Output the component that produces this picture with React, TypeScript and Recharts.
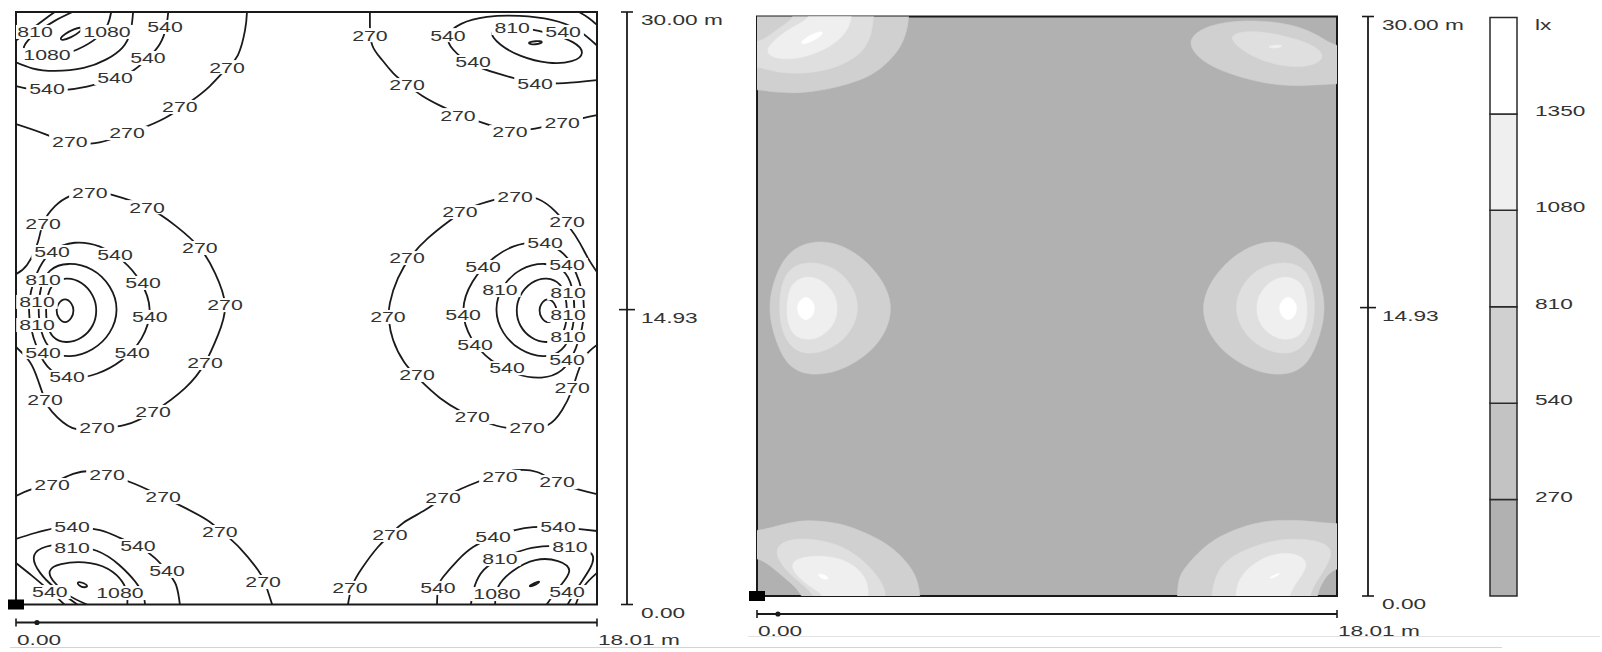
import {
  ComposedChart,
  Line,
  Scatter,
  XAxis,
  YAxis,
  ReferenceArea,
  BarChart,
  Bar
} from "recharts";

type Pair = number[];
const toPts = (a: Pair[]) => a.map(([x, y]) => ({ x, y }));

// room size (m) and dimension-line ticks
const roomWidth = 18.01;
const roomDepth = 30;
const widthTicks = [0, 0.65, 18.01];
const depthTicks = [0, 14.93, 30];
const origin = [{ x: 0, y: 0 }];

// illuminance classes (lx) and grey shades
const lxEdges = [0, 270, 540, 810, 1080, 1350, 1620];
const lxShades = ["#b1b1b1", "#c3c3c3", "#d0d0d0", "#dfdfdf", "#efefef", "#ffffff"];

// isolines, x/y in metres
const tl270 = [[7.16, 30], [7.1, 29.08], [6.88, 27.82], [6.54, 27.16], [6.01, 26.25], [5.39, 25.44], [4.62, 24.63], [3.84, 24.07], [3.07, 23.62], [2.45, 23.36], [1.67, 23.36], [0.9, 23.82], [0, 24.33]];
const tl540 = [[4.72, 30], [4.65, 29.2], [4.45, 28.35], [4.05, 27.6], [3.6, 27.0], [3.07, 26.62], [2.2, 26.22], [1.3, 26.02], [0.5, 26.08], [0, 26.25]];
const tl810 = [[3.63, 30], [3.55, 29.0], [3.3, 28.2], [2.8, 27.6], [2.1, 27.17], [1.2, 27.02], [0.5, 27.15], [0, 27.45]];
const tl810Corner = [[0, 28.55], [0.45, 29.1], [0.9, 29.65], [1.2, 30]];
const tl1080 = [[1.75, 30], [1.2, 29.55], [0.6, 28.9], [0.25, 28.25], [0.45, 27.85], [1.1, 27.75], [1.9, 28.1], [2.55, 28.75], [2.85, 29.4], [2.95, 30]];
const tl1350 = [[1.42, 28.55], [1.7, 28.7], [2.02, 29.02], [2.06, 29.25], [1.8, 29.15], [1.5, 28.88], [1.36, 28.66]];

const tr270 = [[10.97, 30], [10.97, 29.34], [11.04, 28.33], [11.35, 27.57], [11.69, 26.91], [12.12, 26.31], [12.6, 25.75], [13.1, 25.3], [13.7, 24.85], [14.45, 24.4], [15.31, 24.02], [16.09, 24.1], [16.93, 24.38], [17.58, 24.63], [18.01, 24.78]];
const tr270Corner = [[17.45, 30], [17.75, 29.7], [18.01, 29.35]];
const tr540 = [[18.01, 28.3], [17.4, 29.1], [16.6, 29.6], [15.6, 29.8], [14.6, 29.75], [13.8, 29.4], [13.4, 28.8], [13.55, 28.1], [14.1, 27.4], [14.9, 26.9], [16.0, 26.45], [17.0, 26.4], [18.01, 26.55]];
const tr810 = [[14.55, 29.1], [15.0, 28.3], [15.6, 27.75], [16.5, 27.35], [17.3, 27.45], [17.65, 27.9], [17.35, 28.5], [16.5, 28.95], [15.5, 29.3]];
const tr1080 = [[15.8, 28.42], [16.1, 28.55], [16.4, 28.5], [16.1, 28.32]];

const ml270 = [[0, 16.73], [0.34, 17.19], [0.68, 18.35], [0.84, 19.31], [1.21, 20.17], [1.67, 20.68], [2.29, 20.93], [3.01, 20.73], [4.06, 20.12], [4.96, 19.16], [5.7, 18.05], [6.17, 16.78], [6.48, 15.16], [6.26, 13.64], [5.86, 12.23], [5.24, 10.96], [4.25, 9.75], [3.38, 9.09], [2.51, 8.89], [1.74, 8.94], [1.12, 9.75], [0.9, 10.35], [0.68, 11.37], [0.43, 12.28], [0, 13.04]];
const ml540 = [[1.1, 18.0], [1.8, 18.42], [2.6, 18.22], [3.3, 17.5], [3.9, 16.4], [4.25, 14.95], [3.95, 13.4], [3.3, 12.3], [2.5, 11.6], [1.7, 11.4], [1.05, 11.75], [0.65, 12.8], [0.28, 14.95], [0.65, 17.0]];
const ml810 = [[1.0, 17.0], [1.6, 17.35], [2.4, 17.05], [2.95, 16.15], [3.2, 14.95], [2.95, 13.7], [2.4, 12.85], [1.65, 12.45], [1.05, 12.8], [0.75, 13.8], [0.68, 14.95], [0.75, 16.1]];
const ml1080 = [[1.1, 16.25], [1.55, 16.6], [2.05, 16.35], [2.42, 15.65], [2.52, 14.9], [2.42, 14.1], [2.05, 13.45], [1.55, 13.2], [1.1, 13.5], [0.95, 14.2], [0.92, 14.9], [0.97, 15.6]];
const ml1350 = [[1.52, 15.55], [1.74, 15.25], [1.8, 14.9], [1.74, 14.5], [1.52, 14.2], [1.3, 14.5], [1.24, 14.9], [1.3, 15.25]];

const mr270 = [[18.01, 16.83], [17.73, 17.54], [17.48, 18.3], [17.17, 19.06], [16.74, 19.87], [16.18, 20.53], [15.47, 20.68], [14.79, 20.48], [14.07, 20.08], [13.39, 19.37], [12.77, 18.55], [12.28, 17.7], [11.84, 16.53], [11.59, 15.26], [11.56, 14.4], [11.69, 13.39], [12.03, 12.28], [12.52, 11.37], [13.14, 10.46], [13.83, 9.75], [14.54, 9.24], [15.22, 8.94], [15.84, 8.89], [16.49, 9.09], [16.93, 9.85], [17.21, 10.76], [17.42, 11.77], [17.67, 12.63], [18.01, 13.14]];
const mr540 = [[16.91, 18.0], [16.21, 18.42], [15.41, 18.22], [14.71, 17.5], [14.11, 16.4], [13.76, 14.95], [14.06, 13.4], [14.71, 12.3], [15.51, 11.6], [16.31, 11.4], [16.96, 11.75], [17.36, 12.8], [17.73, 14.95], [17.36, 17.0]];
const mr810 = [[17.01, 17.0], [16.41, 17.35], [15.61, 17.05], [15.06, 16.15], [14.81, 14.95], [15.06, 13.7], [15.61, 12.85], [16.36, 12.45], [16.96, 12.8], [17.26, 13.8], [17.33, 14.95], [17.26, 16.1]];
const mr1080 = [[16.91, 16.25], [16.46, 16.6], [15.96, 16.35], [15.59, 15.65], [15.49, 14.9], [15.59, 14.1], [15.96, 13.45], [16.46, 13.2], [16.91, 13.5], [17.06, 14.2], [17.09, 14.9], [17.04, 15.6]];
const mr1350 = [[16.49, 15.55], [16.27, 15.25], [16.21, 14.9], [16.27, 14.5], [16.49, 14.2], [16.71, 14.5], [16.77, 14.9], [16.71, 15.25]];

const bl270 = [[0, 5.49], [0.43, 5.8], [1.12, 6.15], [1.77, 6.61], [2.29, 6.76], [2.82, 6.61], [3.69, 6.1], [4.56, 5.44], [5.24, 4.89], [5.92, 4.28], [6.39, 3.67], [6.94, 2.86], [7.5, 1.75], [7.72, 1.09], [7.94, 0]];
const bl540 = [[0, 3.32], [0.59, 3.62], [1.21, 3.87], [1.74, 3.92], [2.6, 3.77], [3.22, 3.37], [3.78, 2.96], [4.31, 2.35], [4.68, 1.69], [4.96, 0.99], [5.08, 0]];
const bl540Corner = [[1.5, 0], [1.0, 0.75], [0.5, 1.45], [0, 2.1]];
const bl810 = [[1.9, 0], [1.2, 0.85], [0.75, 1.6], [0.55, 2.35], [0.8, 2.85], [1.5, 3.02], [2.5, 2.72], [3.2, 2.0], [3.7, 1.15], [3.95, 0.45], [4.0, 0]];
const bl1080 = [[2.2, 0], [1.6, 0.5], [1.15, 1.2], [1.05, 1.7], [1.4, 2.05], [2.3, 2.1], [3.0, 1.65], [3.35, 1.0], [3.45, 0.45], [3.45, 0]];
const bl1350 = [[1.88, 1.15], [2.05, 1.13], [2.26, 0.93], [2.12, 0.84], [1.95, 0.95]];

const br270 = [[18.01, 5.59], [17.48, 5.8], [16.77, 6.2], [16.15, 6.71], [15.56, 6.81], [15.0, 6.61], [14.07, 6.05], [13.24, 5.39], [12.68, 4.78], [12.0, 4.13], [11.59, 3.52], [11.22, 2.91], [10.73, 1.85], [10.42, 0.94], [10.29, 0]];
const br540 = [[18.01, 3.72], [17.48, 3.82], [16.8, 3.92], [16.03, 3.92], [15.47, 3.77], [14.79, 3.42], [14.17, 2.91], [13.7, 2.25], [13.24, 1.39], [13.08, 0.84], [13.05, 0]];
const br540Corner = [[17.35, 0], [17.6, 0.9], [18.01, 1.6]];
const br810 = [[14.1, 0], [14.23, 0.99], [14.5, 1.75], [15.0, 2.3], [15.84, 2.81], [16.5, 2.96], [17.3, 2.92], [17.85, 2.55], [17.8, 1.85], [17.45, 0.95], [17.1, 0]];
const br1080 = [[14.85, 0], [14.95, 0.9], [15.4, 1.7], [16.1, 2.25], [16.8, 2.2], [17.15, 1.7], [16.85, 0.9], [16.45, 0]];
const br1350 = [[15.85, 0.88], [16.05, 1.08], [16.28, 1.22], [16.12, 0.98]];

const openLines = [tl270, tl540, tl810, tl810Corner, tl1080, tr270, tr270Corner, tr540, ml270, mr270, bl270, bl540, bl540Corner, bl810, bl1080, br270, br540, br540Corner, br810, br1080];
const closedLines = [tl1350, tr810, tr1080, ml540, ml810, ml1080, ml1350, mr540, mr810, mr1080, mr1350, bl1350, br1350];

// filled areas: open isolines closed with points outside the room
const fillAreas = [
  { lx: 540, pts: [...tl540, [-1.5, 26.25], [-1.5, 31.5], [4.75, 31.5]] },
  { lx: 540, pts: [...tr540, [19.5, 26.55], [19.5, 28.3]] },
  { lx: 540, pts: ml540 },
  { lx: 540, pts: mr540 },
  { lx: 540, pts: [...bl540, [5.08, -1.5], [1.5, -1.5], ...bl540Corner, [-1.5, 2.1], [-1.5, 3.32]] },
  { lx: 540, pts: [...br540, [13.05, -1.5], [17.35, -1.5], ...br540Corner, [19.5, 1.6], [19.5, 3.72]] },
  { lx: 810, pts: [...tl810, [-1.5, 27.45], [-1.5, 28.55], ...tl810Corner, [1.2, 31.5], [3.63, 31.5]] },
  { lx: 810, pts: tr810 },
  { lx: 810, pts: ml810 },
  { lx: 810, pts: mr810 },
  { lx: 810, pts: [...bl810, [4.0, -1.5], [1.9, -1.5]] },
  { lx: 810, pts: [...br810, [17.1, -1.5], [14.1, -1.5]] },
  { lx: 1080, pts: [...tl1080, [2.95, 31.5], [1.75, 31.5]] },
  { lx: 1080, pts: tr1080 },
  { lx: 1080, pts: ml1080 },
  { lx: 1080, pts: mr1080 },
  { lx: 1080, pts: [...bl1080, [3.45, -1.5], [2.2, -1.5]] },
  { lx: 1080, pts: [...br1080, [16.45, -1.5], [14.85, -1.5]] },
  { lx: 1350, pts: tl1350 },
  { lx: 1350, pts: ml1350 },
  { lx: 1350, pts: mr1350 },
  { lx: 1350, pts: bl1350 },
  { lx: 1350, pts: br1350 }
];

// isoline labels: x, y (m), value
const isoLabels = [
  [0.59, 28.99, 810], [2.82, 28.99, 1080], [4.62, 29.24, 540], [0.96, 27.82, 1080], [4.09, 27.67, 540], [6.54, 27.21, 270], [3.07, 26.66, 540], [0.96, 26.1, 540], [5.08, 25.19, 270], [3.44, 23.87, 270], [1.67, 23.42, 270],
  [10.97, 28.83, 270], [13.39, 28.83, 540], [15.38, 29.19, 810], [16.96, 28.99, 540], [14.17, 27.47, 540], [12.12, 26.3, 270], [16.09, 26.4, 540], [13.7, 24.78, 270], [15.31, 23.92, 270], [16.93, 24.38, 270],
  [2.29, 20.88, 270], [4.06, 20.12, 270], [0.84, 19.31, 270], [5.7, 18.05, 270], [1.12, 17.85, 540], [3.07, 17.7, 540], [3.94, 16.28, 540], [0.84, 16.43, 810], [0.65, 15.32, 810], [6.48, 15.16, 270], [4.15, 14.56, 540], [0.65, 14.15, 810], [0.84, 12.78, 540], [3.6, 12.78, 540], [5.86, 12.23, 270], [1.58, 11.52, 540], [0.9, 10.35, 270], [4.25, 9.75, 270], [2.51, 8.94, 270],
  [15.47, 20.63, 270], [13.76, 19.87, 270], [17.08, 19.37, 270], [16.4, 18.3, 540], [12.12, 17.54, 270], [14.48, 17.09, 540], [17.08, 17.19, 540], [15.0, 15.92, 810], [17.11, 15.77, 810], [11.53, 14.56, 270], [13.86, 14.66, 540], [17.11, 14.66, 810], [17.11, 13.54, 810], [14.23, 13.14, 540], [17.08, 12.38, 540], [15.22, 11.97, 540], [12.43, 11.62, 270], [17.24, 10.96, 270], [14.14, 9.49, 270], [15.84, 8.94, 270],
  [1.12, 6.05, 270], [2.82, 6.56, 270], [4.56, 5.44, 270], [1.74, 3.92, 540], [6.32, 3.67, 270], [3.78, 2.96, 540], [1.74, 2.86, 810], [4.68, 1.7, 540], [7.66, 1.14, 270], [1.05, 0.63, 540], [3.22, 0.58, 1080],
  [15.0, 6.46, 270], [16.77, 6.2, 270], [13.24, 5.39, 270], [11.59, 3.52, 270], [16.8, 3.92, 540], [14.79, 3.42, 540], [17.17, 2.91, 810], [15.0, 2.3, 810], [10.35, 0.84, 270], [13.08, 0.84, 540], [14.91, 0.53, 1080], [17.08, 0.63, 540]
];

const FONT = "'Liberation Sans', Arial, sans-serif";
const INK = "#1a1a1a";

const fmt = (v: number) => v.toFixed(2);

function DimXTick(props: any) {
  const { x, y, payload } = props;
  const v = payload.value;
  if (v > 0 && v < 1) return <circle cx={x} cy={y} r={2.6} fill={INK} />;
  return (
    <g>
      <line x1={x} x2={x} y1={y - 4} y2={y + 4} stroke={INK} strokeWidth={1.6} />
      <text transform={`translate(${x + 1},${y + 22}) scale(1.62,1)`} fontSize={14} fontFamily={FONT} fill="#333">
        {v === 0 ? fmt(v) : `${fmt(v)} m`}
      </text>
    </g>
  );
}

function DimYTick(props: any) {
  const { x, y, payload } = props;
  const v = payload.value;
  const half = v > 0 && v < roomDepth ? 8 : 6;
  return (
    <g>
      <line x1={x - half} x2={x + half} y1={y} y2={y} stroke={INK} strokeWidth={1.6} />
      <text transform={`translate(${x + 14},${y + 13}) scale(1.62,1)`} fontSize={14} fontFamily={FONT} fill="#333">
        {v === roomDepth ? `${fmt(v)} m` : fmt(v)}
      </text>
    </g>
  );
}

function IsoLabel(props: any) {
  const { cx, cy, payload } = props;
  const t = String(payload.v);
  const w = t.length * 8.34 * 1.42;
  return (
    <g transform={`translate(${cx},${cy})`}>
      <rect x={-w / 2 - 3} y={-7} width={w + 6} height={14} fill="#fff" />
      <text transform="scale(1.42,1)" y={5.4} textAnchor="middle" fontSize={15} fontFamily={FONT} fill="#333">
        {t}
      </text>
    </g>
  );
}

function LegendTick(props: any) {
  const { x, y, payload } = props;
  const v = payload.value;
  const top = v === lxEdges[lxEdges.length - 1];
  return (
    <text transform={`translate(${x + 18},${top ? y + 12 : y + 2}) scale(1.62,1)`} fontSize={14} fontFamily={FONT} fill="#333">
      {top ? "lx" : v}
    </text>
  );
}

const Marker = (p: any) => <rect x={p.cx - 8} y={p.cy - 5} width={16} height={10} fill="#000" />;

const frameAxes = (spacerW: number, dimW: number, dimH: number) => [
  <XAxis key="xa" xAxisId="a" dataKey="x" type="number" domain={[0, roomWidth]} allowDataOverflow height={18} axisLine={false} tickLine={false} tick={false} />,
  <XAxis key="xb" xAxisId="b" dataKey="x" type="number" domain={[0, roomWidth]} ticks={widthTicks} interval={0} height={dimH} axisLine={{ stroke: INK, strokeWidth: 1.8 }} tickLine={false} tickSize={0} tickMargin={0} tick={<DimXTick />} />,
  <YAxis key="ya" yAxisId="a" dataKey="y" orientation="right" type="number" domain={[0, roomDepth]} allowDataOverflow width={spacerW} axisLine={false} tickLine={false} tick={false} />,
  <YAxis key="yb" yAxisId="b" dataKey="y" orientation="right" type="number" domain={[0, roomDepth]} ticks={depthTicks} interval={0} width={dimW} axisLine={{ stroke: INK, strokeWidth: 1.8 }} tickLine={false} tickSize={0} tickMargin={0} tick={<DimYTick />} />
];

const labelData = isoLabels.map(([x, y, v]) => ({ x, y, v }));
const legendRow = [
  Object.fromEntries([["name", "lx"], ...lxShades.map((_, i) => [`b${i}`, lxEdges[i + 1] - lxEdges[i]])])
];

const fillCss = lxEdges
  .slice(2, 6)
  .map((lx, i) => `.lvl-${lx} .recharts-line-curve{fill:${lxShades[i + 2]} !important;}`)
  .join("\n");

export default function App() {
  return (
    <div style={{ position: "absolute", left: 0, top: 0, width: 1602, height: 652, background: "#fff", overflow: "hidden" }}>
      <style>{fillCss}</style>

      <div style={{ position: "absolute", left: 0, top: 0 }}>
        <ComposedChart width={740} height={652} margin={{ top: 12, right: 0, bottom: 0, left: 16 }}>
          {frameAxes(30, 113, 29.5)}
          {openLines.map((l, i) => (
            <Line key={`o${i}`} data={toPts(l)} dataKey="y" xAxisId="a" yAxisId="a" type="natural" stroke={INK} strokeWidth={1.8} dot={false} activeDot={false} isAnimationActive={false} />
          ))}
          {closedLines.map((l, i) => (
            <Line key={`c${i}`} data={toPts(l)} dataKey="y" xAxisId="a" yAxisId="a" type="basisClosed" stroke={INK} strokeWidth={1.8} dot={false} activeDot={false} isAnimationActive={false} />
          ))}
          <Scatter data={labelData} xAxisId="a" yAxisId="a" shape={IsoLabel} isAnimationActive={false} />
          <ReferenceArea x1={0} x2={roomWidth} y1={0} y2={roomDepth} xAxisId="a" yAxisId="a" fill="none" stroke={INK} strokeWidth={2} />
          <Scatter data={origin} xAxisId="b" yAxisId="b" shape={Marker} isAnimationActive={false} />
        </ComposedChart>
      </div>

      <div style={{ position: "absolute", left: 700, top: 0 }}>
        <ComposedChart width={770} height={652} margin={{ top: 16.5, right: 0, bottom: 0, left: 57 }}>
          {frameAxes(31, 102, 38)}
          <ReferenceArea x1={0} x2={roomWidth} y1={0} y2={roomDepth} xAxisId="a" yAxisId="a" fill={lxShades[0]} fillOpacity={1} stroke="none" />
          {fillAreas.map((f, i) => (
            <Line key={`f${i}`} className={`lvl-${f.lx}`} data={toPts(f.pts)} dataKey="y" xAxisId="a" yAxisId="a" type="basisClosed" stroke={lxShades[lxEdges.indexOf(f.lx)]} strokeWidth={0.6} dot={false} activeDot={false} isAnimationActive={false} />
          ))}
          <ReferenceArea x1={0} x2={roomWidth} y1={0} y2={roomDepth} xAxisId="a" yAxisId="a" fill="none" stroke={INK} strokeWidth={2} />
          <Scatter data={origin} xAxisId="b" yAxisId="b" shape={Marker} isAnimationActive={false} />
        </ComposedChart>
      </div>

      <div style={{ position: "absolute", left: 1470, top: 0 }}>
        <BarChart width={132} height={652} data={legendRow} margin={{ top: 17.5, right: 0, bottom: 56, left: 20 }} barCategoryGap={0}>
          <XAxis dataKey="name" hide />
          <YAxis orientation="right" type="number" domain={[0, lxEdges[lxEdges.length - 1]]} ticks={lxEdges.slice(1)} interval={0} width={85} axisLine={false} tickLine={false} tickSize={0} tickMargin={0} tick={<LegendTick />} />
          {lxShades.map((c, i) => (
            <Bar key={i} dataKey={`b${i}`} stackId="lx" fill={c} stroke="#2a2a2a" strokeWidth={1.5} isAnimationActive={false} />
          ))}
        </BarChart>
      </div>

      <div style={{ position: "absolute", left: 748, top: 636, width: 852, height: 1, background: "#e2e2e2" }} />
      <div style={{ position: "absolute", left: 10, top: 647, width: 1492, height: 1, background: "#d4d4d4" }} />
    </div>
  );
}
